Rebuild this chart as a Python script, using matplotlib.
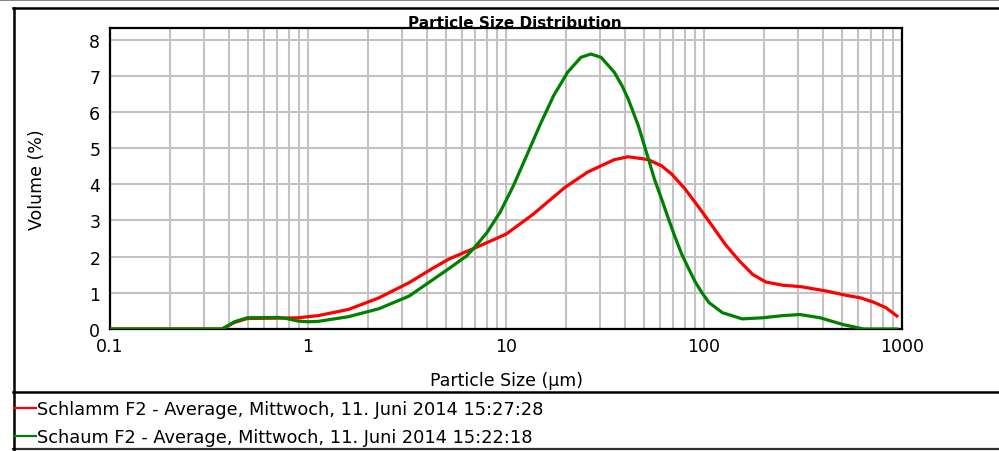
"""Particle size distribution: Schlamm F2 vs Schaum F2 (laser diffraction averages)."""
import matplotlib
matplotlib.use('Agg')
import matplotlib.pyplot as plt
import matplotlib.ticker as mticker
from matplotlib.lines import Line2D

# --- Data ---
schlamm_size = [0.1, 0.368, 0.425, 0.494, 0.703, 0.889, 1.125, 1.6, 2.28, 3.24,
                4.24, 5.18, 7.03, 10.0, 13.7, 19.8, 25.9, 30.2, 35.2, 41.4,
                48.3, 52.4, 56.2, 61.1, 68.7, 80.0, 94.3, 110, 128, 151,
                176, 205, 250, 309, 414, 512, 618, 719, 829, 942]
schlamm_vol = [0.0, 0.0, 0.18, 0.29, 0.30, 0.31, 0.37, 0.54, 0.86, 1.28,
               1.67, 1.94, 2.25, 2.62, 3.17, 3.91, 4.34, 4.51, 4.68, 4.76,
               4.71, 4.68, 4.60, 4.51, 4.28, 3.88, 3.36, 2.85, 2.34, 1.88,
               1.51, 1.30, 1.21, 1.17, 1.05, 0.94, 0.86, 0.74, 0.59, 0.36]

schaum_size = [0.1, 0.368, 0.425, 0.494, 0.703, 0.764, 0.889, 1.0, 1.125, 1.6,
               2.28, 3.24, 4.24, 5.18, 6.33, 7.03, 8.0, 9.32, 10.9, 12.8,
               14.9, 17.4, 20.5, 23.9, 26.8, 30.2, 35.2, 38.5, 41.4, 46.6,
               52.4, 56.2, 61.1, 66.3, 71.1, 77.3, 83.8, 89.9, 97.7, 106,
               124, 156, 198, 250, 305, 386, 506, 640, 942]
schaum_vol = [0.0, 0.0, 0.20, 0.31, 0.32, 0.30, 0.22, 0.20, 0.21, 0.34,
              0.56, 0.91, 1.35, 1.68, 2.02, 2.29, 2.66, 3.22, 3.96, 4.83,
              5.66, 6.45, 7.10, 7.51, 7.60, 7.51, 7.10, 6.73, 6.36, 5.62,
              4.70, 4.14, 3.59, 3.03, 2.57, 2.06, 1.66, 1.32, 1.00, 0.73,
              0.45, 0.28, 0.31, 0.37, 0.40, 0.31, 0.12, 0.0, 0.0]

x_ticks = [0.1, 1, 10, 100, 1000]
x_ticklabels = ['0.1', '1', '10', '100', '1000']
y_ticks = [0, 1, 2, 3, 4, 5, 6, 7, 8]

labels = ['Schlamm F2 - Average, Mittwoch, 11. Juni 2014 15:27:28',
          'Schaum F2 - Average, Mittwoch, 11. Juni 2014 15:22:18']

# --- Palette ---
RED = '#ff0000'
GREEN = '#008000'
GRID = '#c3c3c3'
INK = '#000000'

plt.rcParams.update({
    'font.family': 'DejaVu Sans',
    'font.size': 12,
})

W, H = 999, 452
fig = plt.figure(figsize=(W / 100, H / 100), dpi=100, facecolor='white')


def fx(px):
    return px / W


def fy(py):
    return 1 - py / H


ax = fig.add_axes([fx(110), fy(330), fx(902) - fx(110), fy(29) - fy(330)])
ax.set_xscale('log')
ax.set_xlim(0.1, 1000)
ax.set_ylim(0, 8.32)

ax.xaxis.set_major_locator(mticker.FixedLocator(x_ticks))
ax.xaxis.set_major_formatter(mticker.FixedFormatter(x_ticklabels))
ax.xaxis.set_minor_locator(mticker.LogLocator(base=10, subs=range(2, 10)))
ax.xaxis.set_minor_formatter(mticker.NullFormatter())
ax.set_yticks(y_ticks)

ax.tick_params(which='both', length=0, labelsize=12.5, colors=INK)
ax.tick_params(axis='x', pad=6)
ax.tick_params(axis='y', pad=7)
ax.grid(which='both', axis='x', color=GRID, linewidth=1.5)
ax.grid(which='major', axis='y', color=GRID, linewidth=1.5)
ax.set_axisbelow(True)
for s in ax.spines.values():
    s.set_linewidth(1.6)
    s.set_color(INK)

ax.plot(schlamm_size, schlamm_vol, color=RED, linewidth=2.3, zorder=3)
ax.plot(schaum_size, schaum_vol, color=GREEN, linewidth=2.3, zorder=4)

ax.set_xlabel('Particle Size (µm)', fontsize=12.5, labelpad=11)
ax.set_ylabel('Volume (%)', fontsize=12.5, labelpad=31)

fig.text(fx(515), fy(28), 'Particle Size Distribution', ha='center',
         va='baseline', fontsize=11, fontweight='bold')

# --- Frame lines of the report panel ---
def hline(py, x0, x1, color=INK, lw=1.8):
    fig.add_artist(Line2D([fx(x0), fx(x1)], [fy(py), fy(py)],
                          transform=fig.transFigure, color=color, linewidth=lw))


hline(1, 0, W, color='#6e6e6e', lw=1.2)
hline(9, 13, W, lw=1.8)
hline(393, 13, W, lw=1.8)
hline(450, 13, W, color='#303030', lw=1.6)
fig.add_artist(Line2D([fx(14), fx(14)], [fy(9), fy(451)],
                      transform=fig.transFigure, color=INK, linewidth=1.8))

# --- Legend rows ---
for i, (lab, col) in enumerate(zip(labels, [RED, GREEN])):
    py = 410 + i * 28
    fig.add_artist(Line2D([fx(14), fx(36)], [fy(py - 1), fy(py - 1)],
                          transform=fig.transFigure, color=col, linewidth=1.6))
    fig.text(fx(37), fy(py), lab, ha='left', va='center', fontsize=12.8)

fig.savefig('out.png', dpi=100, facecolor='white')
plt.close(fig)
